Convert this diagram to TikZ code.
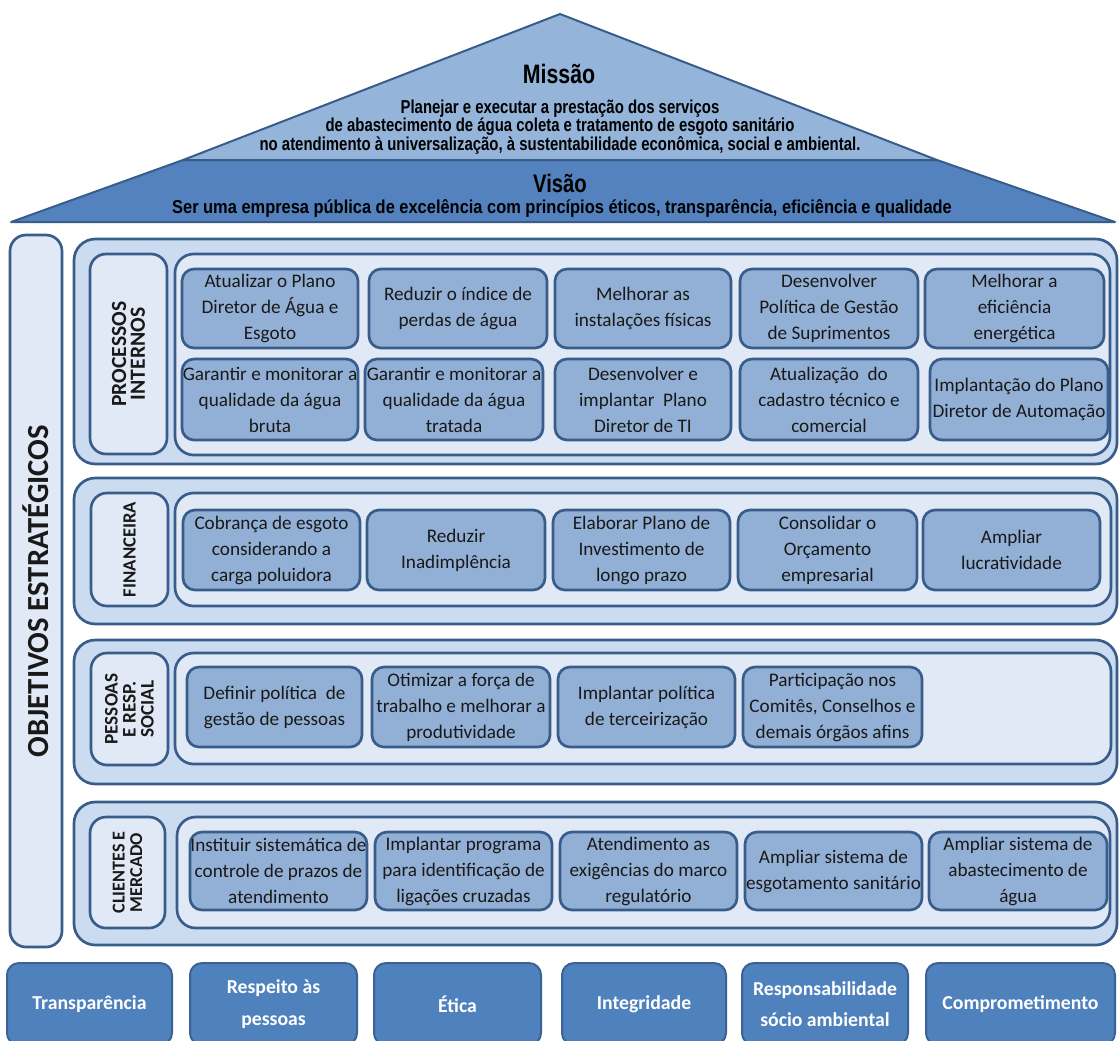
\documentclass[tikz,border=0pt]{standalone}
\usepackage{fontspec}
\setmainfont{Carlito}
\newfontfamily\narrowfont[FakeStretch=0.8]{Liberation Sans}
\newfontfamily\semifont[FakeStretch=0.88]{Liberation Sans}
\definecolor{edge}{RGB}{56,93,138}
\definecolor{missfill}{RGB}{148,180,218}
\definecolor{visfill}{RGB}{84,130,190}
\definecolor{panelfill}{RGB}{204,220,240}
\definecolor{innerfill}{RGB}{224,233,245}
\definecolor{objfill}{RGB}{146,176,213}
\definecolor{valfill}{RGB}{79,129,189}
\definecolor{valedge}{RGB}{58,98,150}
\definecolor{txt}{RGB}{25,25,25}
\tikzset{
  outerpanel/.style={draw=edge, line width=2pt, fill=panelfill, rounded corners=16pt, inner sep=0pt},
  innerpanel/.style={draw=edge, line width=2pt, fill=innerfill, rounded corners=14pt, inner sep=0pt},
  labelbox/.style={draw=edge, line width=2pt, fill=innerfill, rounded corners=12pt, inner sep=0pt},
  objbox/.style={draw=edge, line width=2pt, fill=objfill, rounded corners=9pt, inner sep=0pt,
    align=center, text=txt, font=\fontsize{14.4}{19.5}\selectfont},
  valbox/.style={draw=valedge, line width=1.5pt, fill=valfill, rounded corners=9pt, inner sep=0pt,
    align=center, text=white, font=\fontsize{14.8}{23.5}\selectfont\bfseries},
  labtext/.style={rotate=90, align=center, text=txt},
  rooftext/.style={align=center, text=black}
}
% #1 name, #2 x1, #3 y1, #4 x2, #5 y2 (pixels), #6 style, #7 text
\newcommand\rbox[7]{\node[#6, minimum width={(#4-#2)*0.75pt}, minimum height={(#5-#3)*0.75pt}] (#1) at ({(#2+#4)/2},{(#3+#5)/2}) {#7};}
\newcommand\obj[6]{\rbox{#1}{#2}{#3}{#4}{#5}{objbox}{#6}}
\newcommand\val[6]{\rbox{#1}{#2}{#3}{#4}{#5}{valbox}{#6}}
\newcommand\pan[6]{\rbox{#1}{#2}{#3}{#4}{#5}{#6}{}}
\begin{document}
\begin{tikzpicture}[x=0.75pt,y=-0.75pt]
\useasboundingbox[fill=white] (0,0) rectangle (1119,1040);
% roof
\coordinate (apex) at (560,14);
\coordinate (mL) at (183,160);
\coordinate (mR) at (937,160);
\coordinate (vL) at (11,222);
\coordinate (vR) at (1115,222);
\filldraw[fill=visfill, draw=edge, line width=1.5pt, line join=round] (vL) -- (mL) -- (mR) -- (vR) -- cycle;
\filldraw[fill=missfill, draw=edge, line width=1.5pt, line join=round] (mL) -- (apex) -- (mR) -- cycle;
\node[rooftext, font=\narrowfont\bfseries\fontsize{20}{21}\selectfont] (mtitle) at (559,74) {Missão};
\node[rooftext, font=\narrowfont\bfseries\fontsize{14}{13.8}\selectfont] (mtext) at (560,127) {Planejar e executar a prestação dos serviços\\de abastecimento de água coleta e tratamento de esgoto sanitário\\no atendimento à universalização, à sustentabilidade econômica, social e ambiental.};
\node[rooftext, font=\narrowfont\bfseries\fontsize{19}{20}\selectfont] (vtitle) at (560,183) {Visão};
\node[rooftext, font=\semifont\bfseries\fontsize{14}{15}\selectfont] (vtext) at (562,208) {Ser uma empresa pública de excelência com princípios éticos, transparência, eficiência e qualidade};
% left column
\pan{objcol}{10}{235}{62}{947}{labelbox}
\node[rotate=90, text=txt, font=\fontsize{23}{26}\selectfont\bfseries] (objtxt) at (objcol.center) {OBJETIVOS ESTRATÉGICOS};
% panels
\pan{p1}{74}{239}{1117}{464}{outerpanel}
\pan{p2}{74}{478}{1117}{624}{outerpanel}
\pan{p3}{74}{640}{1117}{784}{outerpanel}
\pan{p4}{74}{802}{1117}{945}{outerpanel}
\pan{l1}{90}{254}{167}{454}{labelbox}
\pan{l2}{91}{493}{168}{606}{labelbox}
\pan{l3}{91}{653}{168}{765}{labelbox}
\pan{l4}{90}{817}{165}{928}{labelbox}
\pan{i1}{175}{254}{1110}{455}{innerpanel}
\pan{i2}{175}{493}{1111}{606}{innerpanel}
\pan{i3}{175}{653}{1111}{764}{innerpanel}
\pan{i4}{177}{817}{1110}{928}{innerpanel}
\node[labtext, font=\fontsize{16.2}{14}\selectfont\bfseries] (lt1) at (l1.center) {PROCESSOS\\INTERNOS};
\node[labtext, font=\fontsize{14}{14}\selectfont\bfseries] (lt2) at (l2.center) {FINANCEIRA};
\node[labtext, font=\fontsize{14.4}{13.5}\selectfont\bfseries] (lt3) at (l3.center) {PESSOAS\\E RESP.\\SOCIAL};
\node[labtext, font=\fontsize{13.6}{13}\selectfont\bfseries] (lt4) at (l4.center) {CLIENTES E\\MERCADO};
% processos internos
\obj{a1}{182}{269}{358}{348}{Atualizar o Plano\\Diretor de Água e\\Esgoto}
\obj{a2}{369}{269}{547}{348}{Reduzir o índice de\\perdas de água}
\obj{a3}{555}{269}{731}{348}{Melhorar as\\instalações físicas}
\obj{a4}{740}{269}{918}{348}{Desenvolver\\Política de Gestão\\de Suprimentos}
\obj{a5}{925}{269}{1104}{348}{Melhorar a\\eficiência\\energética}
\obj{b1}{182}{359}{358}{440}{Garantir e monitorar a\\qualidade da água\\bruta}
\obj{b2}{365}{359}{543}{440}{Garantir e monitorar a\\qualidade da água\\tratada}
\obj{b3}{555}{359}{731}{440}{Desenvolver e\\implantar~ Plano\\Diretor de TI}
\obj{b4}{740}{359}{918}{440}{Atualização~ do\\cadastro técnico e\\comercial}
\obj{b5}{930}{359}{1108}{440}{Implantação do Plano\\Diretor de Automação}
% financeira
\obj{f1}{183}{510}{360}{590}{Cobrança de esgoto\\considerando a\\carga poluidora}
\obj{f2}{367}{510}{545}{590}{Reduzir\\Inadimplência}
\obj{f3}{553}{510}{730}{590}{Elaborar Plano de\\Investimento de\\longo prazo}
\obj{f4}{738}{510}{917}{590}{Consolidar o\\Orçamento\\empresarial}
\obj{f5}{923}{510}{1100}{590}{Ampliar\\lucratividade}
% pessoas
\obj{g1}{187}{667}{362}{747}{Definir política~ de\\gestão de pessoas}
\obj{g2}{372}{667}{550}{747}{Otimizar a força de\\trabalho e melhorar a\\produtividade}
\obj{g3}{558}{667}{735}{747}{Implantar política\\de terceirização}
\obj{g4}{743}{667}{922}{747}{Participação nos\\Comitês, Conselhos e\\demais órgãos afins}
% clientes
\obj{c1}{190}{832}{367}{910}{Instituir sistemática de\\controle de prazos de\\atendimento}
\obj{c2}{375}{832}{552}{910}{Implantar programa\\para identificação de\\ligações cruzadas}
\obj{c3}{560}{832}{737}{910}{Atendimento as\\exigências do marco\\regulatório}
\obj{c4}{745}{832}{922}{910}{Ampliar sistema de\\esgotamento sanitário}
\obj{c5}{929}{832}{1107}{910}{Ampliar sistema de\\abastecimento de\\água}
% values
\val{v1}{7}{963}{172}{1045}{Transparência}
\val{v2}{190}{963}{357}{1045}{Respeito às\\pessoas}
\val{v3}{374}{963}{541}{1045}{Ética}
\val{v4}{562}{963}{726}{1045}{Integridade}
\val{v5}{742}{963}{908}{1045}{Responsabilidade\\sócio ambiental}
\val{v6}{926}{963}{1115}{1045}{Comprometimento}
\end{tikzpicture}
\end{document}
